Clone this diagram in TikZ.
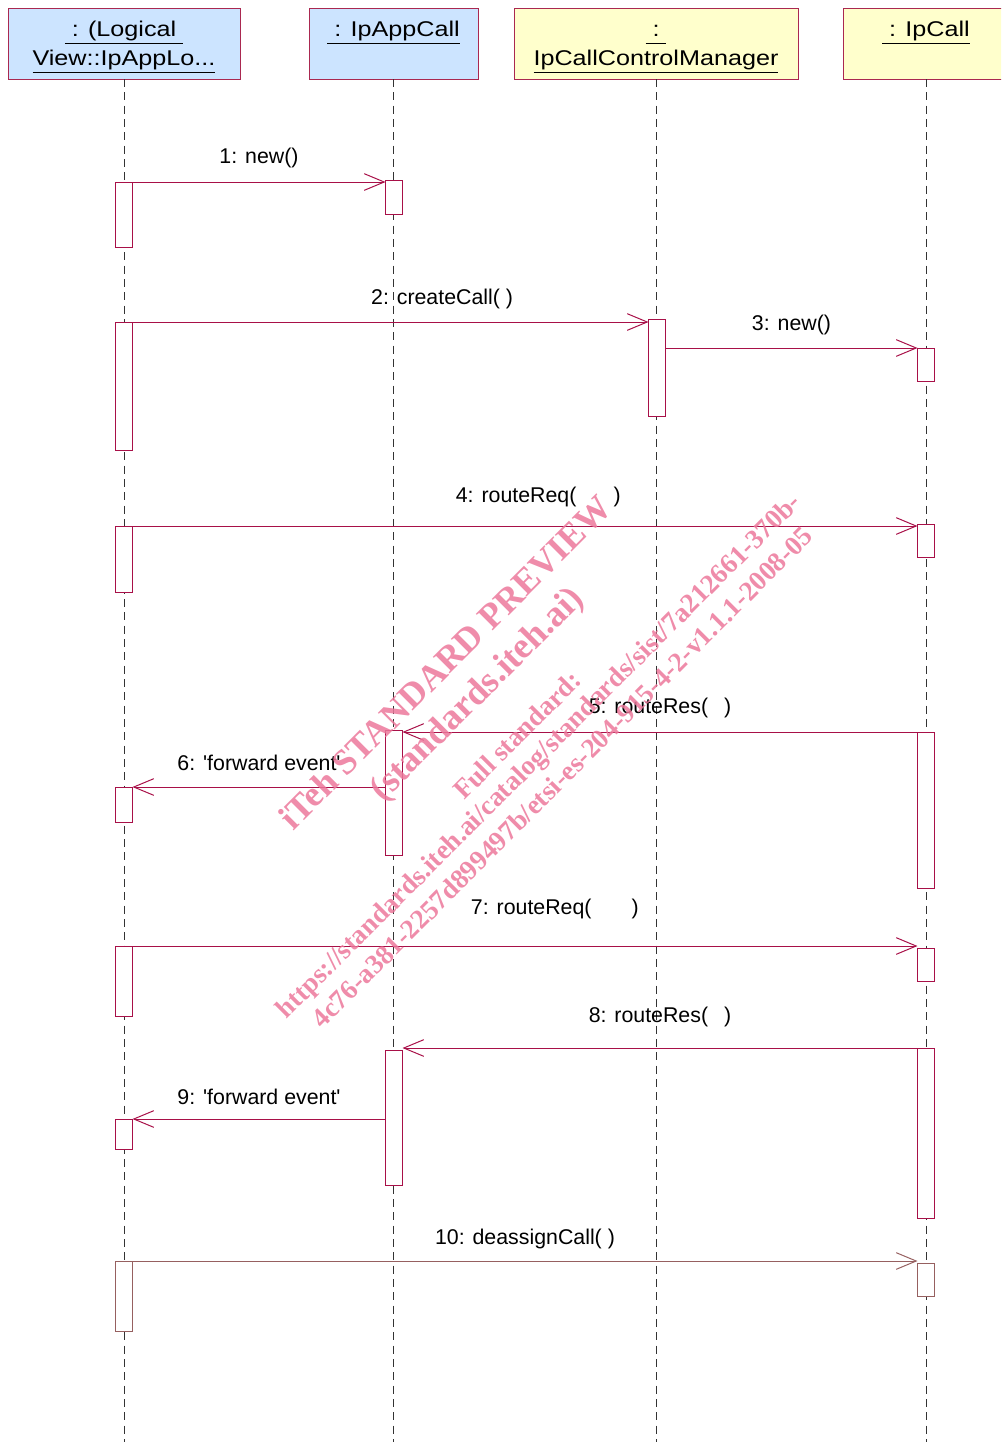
\documentclass[tikz,border=0pt]{standalone}
\usepackage{fontspec}
\setmainfont{Liberation Sans}
\newfontfamily\hdrfont[FakeStretch=1.18]{Liberation Sans}
\newfontfamily\wmfont{Liberation Serif}
\usetikzlibrary{positioning,arrows.meta}

\definecolor{objblue}{RGB}{204,228,255}
\definecolor{objyellow}{RGB}{255,255,204}
\definecolor{objedge}{RGB}{170,40,80}
\definecolor{msgred}{RGB}{168,16,72}
\definecolor{msgbrown}{RGB}{150,96,96}
\definecolor{wmpink}{RGB}{236,120,155}

\newcommand{\objname}[1]{\underline{\vphantom{Ip}#1}}
\newcommand{\hdrtop}{\rule{0pt}{17pt}}
\newcommand{\hdrnone}{\phantom{\objname{I}}}

\tikzset{
  obj/.style={draw=objedge, line width=0.75pt, minimum width=#1*0.75pt,
    minimum height=53.25pt, inner sep=0pt, outer sep=0pt, align=center,
    font=\hdrfont\fontsize{16}{21.75}\selectfont},
  lifeline/.style={draw=black!80, line width=0.75pt, dash pattern=on 6pt off 4pt},
  act/.style={draw=msgred, fill=white, line width=0.75pt, minimum width=12.75pt,
    minimum height=#1*0.75pt, anchor=north, inner sep=0pt, outer sep=0pt},
  msg/.style={draw=msgred, line width=0.75pt,
    -{Straight Barb[length=15pt,width=12.5pt]}},
  lbl/.style={font=\fontsize{16}{19}\selectfont, inner sep=0pt},
  wmark/.style={rotate=45, text=wmpink, opacity=0.85, inner sep=0pt,
    font=\wmfont\bfseries\fontsize{#1}{#1}\selectfont}
}

\begin{document}
\begin{tikzpicture}[x=0.75pt,y=-0.75pt]
\useasboundingbox (0,0) rectangle (1001,1442);
\clip (0,0) rectangle (1001,1442);

% objects
\node[obj=232, fill=objblue] (h1) at (124,43.5) {\hdrtop\objname{~: (Logical~}\\\objname{View::IpAppLo...}};
\node[obj=169, fill=objblue] (h2) at (393.5,43.5) {\hdrtop\objname{~: IpAppCall}\\\hdrnone};
\node[obj=284, fill=objyellow] (h3) at (656,43.5) {\hdrtop\objname{~:~}\\\objname{IpCallControlManager}};
\node[obj=166, fill=objyellow] (h4) at (926,43.5) {\hdrtop\objname{~: IpCall}\\\hdrnone};

% lifelines
\coordinate (bottom) at (0,1442);
\foreach \h in {h1,h2,h3,h4}
  \draw[lifeline] (\h.south) -- (\h.south |- bottom);

% activations
\node[act=65] (a1) at (124,182) {};
\node[act=34] (a2) at (394,180) {};
\node[act=128] (a3) at (124,322) {};
\node[act=97] (a4) at (657,319) {};
\node[act=33] (a5) at (926,348) {};
\node[act=66] (a6) at (124,526) {};
\node[act=33] (a7) at (926,524) {};
\node[act=156] (a8) at (926,732) {};
\node[act=125] (a9) at (394,730) {};
\node[act=35] (a10) at (124,787) {};
\node[act=70] (a11) at (124,946) {};
\node[act=33] (a12) at (926,948) {};
\node[act=170] (a13) at (926,1048) {};
\node[act=135] (a14) at (394,1050) {};
\node[act=30] (a15) at (124,1119) {};
\node[act=70, draw=msgbrown] (a16) at (124,1261) {};
\node[act=33, draw=msgbrown] (a17) at (926,1263) {};

% messages
\draw[msg] (a1.north east) -- node[lbl, yshift=18pt] {1: new()} (a2.west |- a1.north);
\draw[msg] (a3.north east) -- node[lbl, pos=.6, yshift=17.25pt] {2: createCall( )} (a4.west |- a3.north);
\draw[msg] (a4.east |- a5.north) -- node[lbl, yshift=17.25pt] {3: new()} (a5.north west);
\draw[msg] (a6.north east) -- node[lbl, pos=.517, yshift=21.75pt] {4: routeReq(\hspace{28pt})} (a7.west |- a6.north);
\draw[msg] (a8.north west) -- node[lbl, yshift=18pt] {5: routeRes(\hspace{12pt})} (a9.east |- a8.north);
\draw[msg] (a9.west |- a10.north) -- node[lbl, yshift=18pt] {6: \textquotesingle forward event\textquotesingle} (a10.north east);
\draw[msg] (a11.north east) -- node[lbl, pos=.538, yshift=27.75pt] {7: routeReq(\hspace{30pt})} (a12.west |- a11.north);
\draw[msg] (a13.north west) -- node[lbl, yshift=23.25pt] {8: routeRes(\hspace{12pt})} (a14.east |- a13.north);
\draw[msg] (a14.west |- a15.north) -- node[lbl, yshift=16.5pt] {9: \textquotesingle forward event\textquotesingle} (a15.north east);
\draw[msg, draw=msgbrown] (a16.north east) -- node[lbl, yshift=16.5pt] {10: deassignCall( )} (a17.west |- a16.north);

% watermark
\node[wmark=27] (wm1) at (445,662) {iTeh STANDARD PREVIEW};
\node[wmark=27.5] (wm2) at (478,695) {(standards.iteh.ai)};
\node[wmark=20.5] (wm3) at (517,735) {Full standard:};
\node[wmark=20.5] (wm4) at (540,757) {https://standards.iteh.ai/catalog/standards/sist/7a212661-370b-};
\node[wmark=20.5] (wm5) at (562,777) {4c76-a381-2257d899497b/etsi-es-204-915-4-2-v1.1.1-2008-05};
\end{tikzpicture}
\end{document}
